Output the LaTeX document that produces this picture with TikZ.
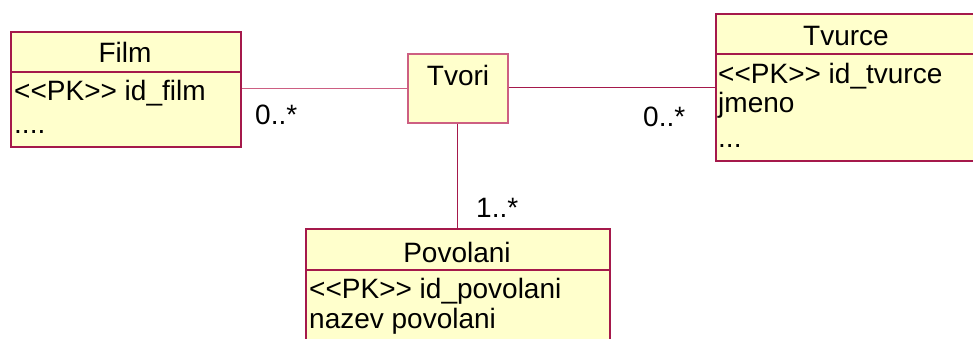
\documentclass[tikz,border=0pt]{standalone}
\usepackage{fontspec}
\setmainfont{Liberation Sans}
\usetikzlibrary{positioning}
\definecolor{umlfill}{RGB}{255,255,204}
\definecolor{umlline}{RGB}{165,25,75}
\definecolor{umlpink}{RGB}{205,95,130}

\begin{document}
\begin{tikzpicture}[x=1pt, y=-1pt]
\tikzstyle{cls}=[draw=umlline, fill=umlfill, line width=1.5pt, anchor=north west, inner sep=0pt]
\tikzstyle{txt}=[font=\fontsize{28}{32}\selectfont, inner sep=0pt]
\tikzstyle{assoc}=[draw=umlline, line width=0.9pt]
\useasboundingbox (0,0) rectangle (973,338);
% classes
\node[cls, minimum width=230pt, minimum height=115pt](film) at (10,31) {};
\node[cls, minimum width=262pt, minimum height=147pt](tvurce) at (715,13) {};
\node[cls, minimum width=304pt, minimum height=125pt](povolani) at (305,228) {};
\node[cls, draw=umlpink, minimum width=100pt, minimum height=69pt](tvori) at (407,53) {};
% compartments
\draw[umlline, line width=1.5pt] (10,72) -- (240,72);
\draw[umlline, line width=1.5pt] (715,54) -- (977,54);
\draw[umlline, line width=1.5pt] (305,270) -- (609,270);
% texts
\node[txt, anchor=base](filmname) at (125,62) {Film};
\node[txt, anchor=base west](filmpk) at (14,100) {<{}<PK>{}> id\_film};
\node[txt, anchor=base west](filmdots) at (14,133) {....};
\node[txt, anchor=base](tvurcename) at (846,45) {Tvurce};
\node[txt, anchor=base west](tvurcepk) at (718,83) {<{}<PK>{}> id\_tvurce};
\node[txt, anchor=base west](tvurcejm) at (718,112) {jmeno};
\node[txt, anchor=base west](tvurcedots) at (718,147) {...};
\node[txt, anchor=base](povname) at (457,262) {Povolani};
\node[txt, anchor=base west](povpk) at (309,298) {<{}<PK>{}> id\_povolani};
\node[txt, anchor=base west](povnazev) at (309,328) {nazev povolani};
\node[txt, anchor=base](tvoriname) at (458,85) {Tvori};
% associations
\draw[assoc, draw=umlpink] (film.east |- 0,88) -- (tvori.west |- 0,88);
\draw[assoc] (tvori.east |- 0,87) -- (tvurce.west |- 0,87);
\draw[assoc] (tvori.south) -- (povolani.north -| tvori.south);
% multiplicities
\node[txt, anchor=base west](m1) at (255,124) {0..*};
\node[txt, anchor=base west](m2) at (643,126) {0..*};
\node[txt, anchor=base west](m3) at (476,217) {1..*};
\end{tikzpicture}
\end{document}
